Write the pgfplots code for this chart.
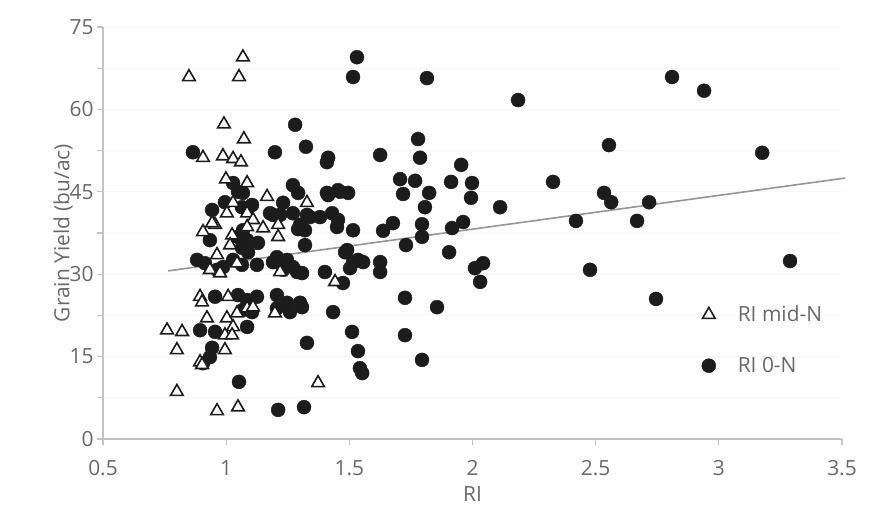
\documentclass[border=0pt]{standalone}
\usepackage{fontspec}
\setmainfont{Open Sans}
\usepackage{pgfplots}
\pgfplotsset{compat=1.18}
\definecolor{TextGray}{RGB}{105,105,105}
\definecolor{AxisGray}{RGB}{195,195,195}
\definecolor{DotBlack}{RGB}{28,28,28}
\definecolor{TrendGray}{RGB}{150,150,150}

% RI mid-N
\pgfplotstableread{
x y
0.849 65.9
1.068 69.5
1.052 65.9
0.991 57.3
1.072 54.6
0.906 51.2
0.987 51.5
1.028 51.0
1.060 50.4
0.999 47.3
1.085 46.6
1.166 44.1
1.328 43.0
1.028 43.0
1.003 41.1
1.085 41.1
1.109 39.9
0.955 39.0
0.906 37.7
1.150 38.4
1.024 37.1
1.211 39.0
1.211 36.8
1.085 38.6
1.016 35.3
0.963 33.5
0.934 30.8
0.975 30.2
1.044 32.0
1.219 30.4
0.894 25.9
0.902 24.9
1.008 25.9
0.922 22.0
1.003 22.0
1.044 22.9
1.085 23.8
1.109 24.0
1.198 22.9
1.028 20.4
0.995 18.9
1.024 18.9
0.760 19.8
0.821 19.5
0.800 16.2
0.995 16.2
0.894 14.0
0.902 13.5
0.800 8.6
0.963 5.1
1.048 5.8
1.373 10.2
1.442 28.6
0.943 39.3
}\midN

% RI 0-N
\pgfplotstableread{
x y
0.865 52.2
1.280 57.2
1.198 52.2
1.324 53.2
1.271 46.2
1.292 44.8
1.028 46.6
1.068 44.8
1.105 42.6
0.943 41.7
0.995 43.1
1.231 43.0
1.178 41.1
1.340 40.4
1.292 38.2
1.048 45.0
1.064 42.2
1.409 44.8
1.462 45.0
1.495 44.8
1.190 40.8
1.219 40.8
1.271 41.1
1.328 40.8
1.381 40.4
1.430 41.1
1.454 39.9
1.450 38.6
1.515 38.0
1.320 35.3
1.048 36.8
1.085 36.2
1.129 35.7
1.064 34.8
1.089 34.0
0.934 36.2
0.882 32.6
0.914 32.0
0.963 30.8
0.987 31.3
1.028 32.6
1.064 31.7
1.125 31.7
1.206 33.1
1.247 32.6
1.271 31.3
1.401 30.4
1.491 34.4
1.515 32.2
1.474 28.4
0.955 25.9
1.048 26.2
1.085 25.3
1.125 25.9
1.206 26.2
1.247 24.8
1.300 24.8
1.434 23.1
1.068 23.5
1.105 23.1
1.068 38.0
1.190 32.2
1.231 30.8
1.288 30.4
1.300 39.0
1.206 23.8
1.259 23.1
0.894 19.8
0.955 19.5
1.085 20.4
0.943 16.6
0.934 14.9
0.906 13.8
1.328 17.5
1.052 10.4
1.211 5.3
1.316 5.8
1.807 42.2
2.112 42.2
1.677 39.3
1.637 37.9
1.795 39.1
1.795 36.8
1.917 38.4
1.962 39.5
1.320 38.0
1.730 35.3
1.905 34.0
1.483 34.0
1.535 32.6
1.503 31.1
1.556 32.2
1.625 32.2
1.625 30.4
2.010 31.1
2.043 32.0
2.031 28.6
1.726 25.7
1.856 24.0
1.308 30.2
1.308 24.0
1.511 19.5
1.726 18.9
1.535 16.0
1.543 12.9
1.552 12.0
1.795 14.4
1.531 69.5
1.515 65.9
1.815 65.7
2.185 61.7
1.779 54.6
1.787 51.2
1.954 49.9
1.913 46.8
1.998 46.6
1.994 43.9
1.706 47.3
1.767 47.0
1.718 44.6
1.824 44.8
1.625 51.7
1.414 51.2
1.409 50.4
1.414 44.4
1.454 45.3
2.327 46.8
2.810 65.9
2.940 63.4
2.554 53.5
3.176 52.1
2.534 44.8
2.563 43.1
2.717 43.1
2.420 39.7
2.668 39.7
2.477 30.8
3.289 32.4
2.745 25.5
}\zeroN

% linear trend line
\pgfplotstableread{
x y
0.764 30.6
3.513 47.5
}\trend

\begin{document}
\begin{tikzpicture}
\begin{axis}[
    name=ax,
    scale only axis,
    width=739bp,
    height=412bp,
    xmin=0.5, xmax=3.5,
    ymin=0, ymax=75,
    xtick={0.5,1,1.5,2,2.5,3,3.5},
    xticklabels={0.5,1,1.5,2,2.5,3,3.5},
    ytick={0,15,30,45,60,75},
    minor ytick={7.5,22.5,37.5,52.5,67.5},
    axis lines*=left,
    axis line style={AxisGray, line width=1.6bp},
    tick style={AxisGray, line width=1.3bp},
    tick align=outside,
    major tick length=6bp,
    minor tick length=6bp,
    ymajorgrids, yminorgrids,
    major grid style={black!3, line width=0.8bp},
    minor grid style={black!3, line width=0.8bp},
    font=\fontsize{21}{25}\selectfont,
    tick label style={TextGray},
    /pgf/number format/assume math mode=true,
    xticklabel style={yshift=-12bp},
    xlabel={RI},
    ylabel={Grain Yield (bu/ac)},
    label style={TextGray},
    xlabel style={yshift=-4bp},
    ylabel style={yshift=-10bp},
    clip=false,
    reverse legend,
    legend style={at={(0.806,0.333)}, anchor=north west, draw=none,
        fill=none, text=TextGray, row sep=30bp,
        font=\fontsize{21}{25}\selectfont},
    legend cell align=left,
    legend image code/.code={\draw[#1] plot coordinates {(7bp,0bp)}; \path[draw=none, fill=none] (0bp,0bp) -- (34bp,0bp);},
]
\addplot[only marks, mark=*, mark size=7bp,
    mark options={fill=DotBlack, draw=DotBlack}]
    table[x=x, y=y] {\zeroN};
\addlegendentry{RI 0-N}
\addplot[only marks, mark=triangle*, mark size=7.3bp,
    mark options={fill=white, draw=DotBlack, line width=1.6bp}]
    table[x=x, y=y] {\midN};
\addlegendentry{RI mid-N}
\addplot[TrendGray, line width=1.6bp, forget plot] table[x=x, y=y] {\trend};
\end{axis}
\path ([shift={(-103bp,-75bp)}]ax.south west) rectangle ([shift={(34bp,27bp)}]ax.north east);
\end{tikzpicture}
\end{document}
